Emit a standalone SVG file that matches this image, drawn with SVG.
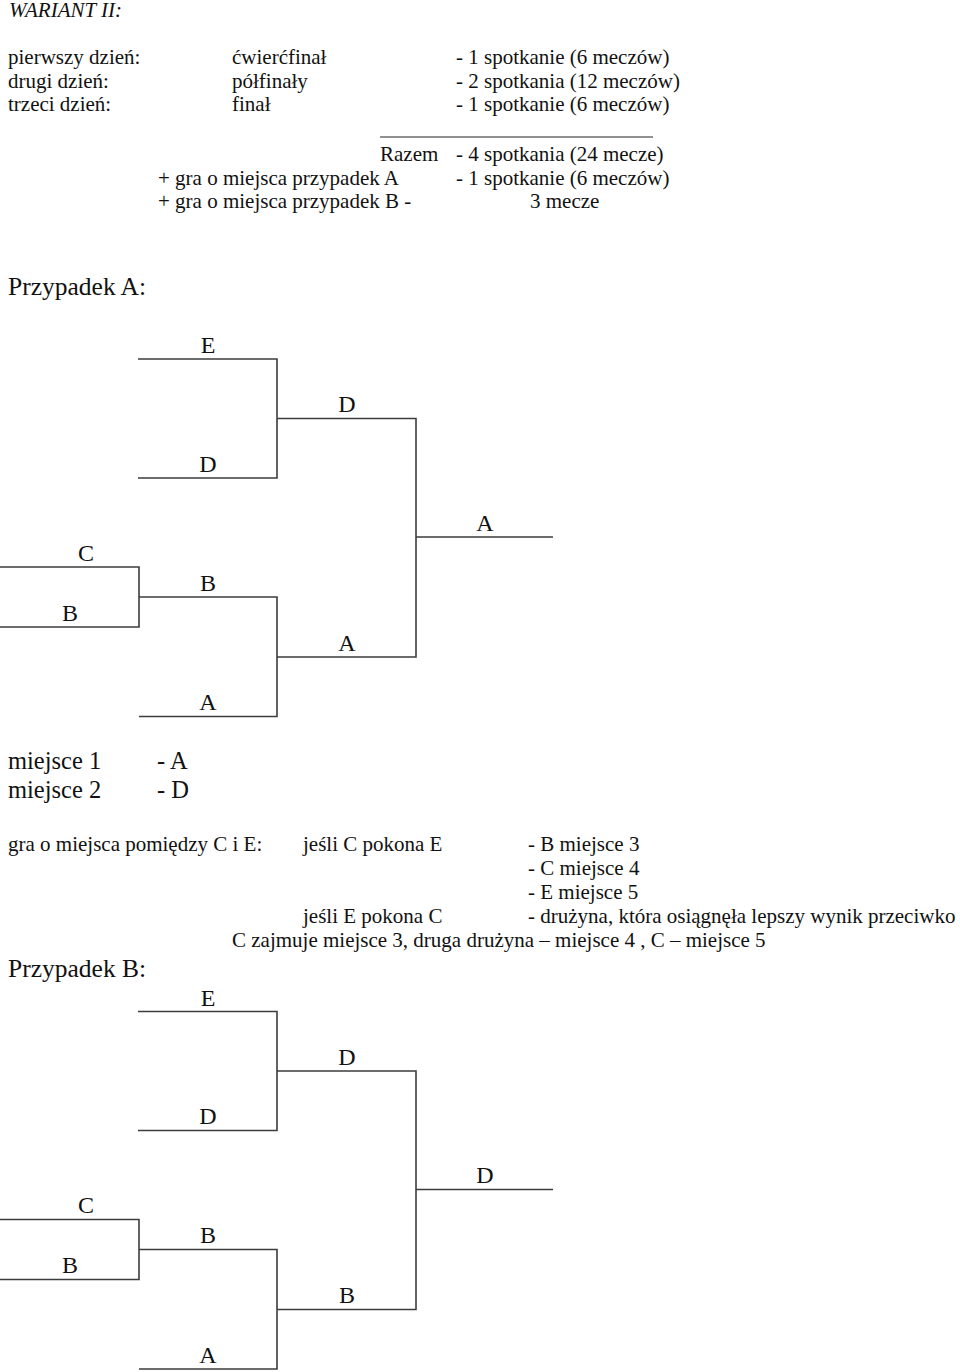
<svg xmlns="http://www.w3.org/2000/svg" width="960" height="1372" viewBox="0 0 960 1372">
<style>
text{font-family:"Liberation Serif","Times New Roman",serif;fill:#111}
.t{font-size:21px}
.h{font-size:24.5px}
.p{font-size:25.5px}
.l{font-size:24px;text-anchor:middle}
.ln{stroke:#3c3c3c;stroke-width:1.6;fill:none}
</style>
<rect width="960" height="1372" fill="#fff"/>
<g id="header">
<text class="t" x="9" y="17" font-style="italic">WARIANT II:</text>
<text class="t" x="8" y="64">pierwszy dzień:</text>
<text class="t" x="232" y="64">ćwierćfinał</text>
<text class="t" x="456" y="64">- 1 spotkanie (6 meczów)</text>
<text class="t" x="8" y="88">drugi dzień:</text>
<text class="t" x="232" y="88">półfinały</text>
<text class="t" x="456" y="88">- 2 spotkania (12 meczów)</text>
<text class="t" x="8" y="111">trzeci dzień:</text>
<text class="t" x="232" y="111">finał</text>
<text class="t" x="456" y="111">- 1 spotkanie (6 meczów)</text>
<line x1="380" y1="137" x2="653" y2="137" stroke="#222" stroke-width="1"/>
<text class="t" x="380" y="161">Razem</text>
<text class="t" x="456" y="161">- 4 spotkania (24 mecze)</text>
<text class="t" x="158" y="185">+ gra o miejsca przypadek A</text>
<text class="t" x="456" y="185">- 1 spotkanie (6 meczów)</text>
<text class="t" x="158" y="208">+ gra o miejsca przypadek B -</text>
<text class="t" x="530" y="208">3 mecze</text>
</g>
<text class="p" x="8" y="295">Przypadek A:</text>
<g id="connectors-a">
<path class="ln" d="M138 359H277V478H138M277 418.5H416V657H277M416 537H553M0 567H139V627H0M139 597H277V716.5H139"/>
</g>
<g id="node-a-e"><text class="l" x="208" y="353">E</text></g>
<g id="node-a-d1"><text class="l" x="208" y="471.5">D</text></g>
<g id="node-a-d2"><text class="l" x="347" y="412">D</text></g>
<g id="node-a-final"><text class="l" x="485" y="530.5">A</text></g>
<g id="node-a-c"><text class="l" x="86" y="560.5">C</text></g>
<g id="node-a-b1"><text class="l" x="70" y="620.5">B</text></g>
<g id="node-a-b2"><text class="l" x="208" y="590.5">B</text></g>
<g id="node-a-a2"><text class="l" x="347" y="650.5">A</text></g>
<g id="node-a-a1"><text class="l" x="208" y="710">A</text></g>
<g id="results">
<text class="h" x="8" y="769">miejsce 1</text>
<text class="h" x="157" y="769">- A</text>
<text class="h" x="8" y="798">miejsce 2</text>
<text class="h" x="157" y="798">- D</text>
<text class="t" x="8" y="851">gra o miejsca pomiędzy C i E:</text>
<text class="t" x="303" y="851">jeśli C pokona E</text>
<text class="t" x="528" y="851">- B miejsce 3</text>
<text class="t" x="528" y="875">- C miejsce 4</text>
<text class="t" x="528" y="899">- E miejsce 5</text>
<text class="t" x="303" y="923">jeśli E pokona C</text>
<text class="t" x="528" y="923">- drużyna, która osiągnęła lepszy wynik przeciwko</text>
<text class="t" x="232" y="947">C zajmuje miejsce 3, druga drużyna – miejsce 4 , C – miejsce 5</text>
</g>
<text class="p" x="8" y="977">Przypadek B:</text>
<g id="connectors-b" transform="translate(0 652.5)">
<path class="ln" d="M138 359H277V478H138M277 418.5H416V657H277M416 537H553M0 567H139V627H0M139 597H277V716.5H139"/>
</g>
<g transform="translate(0 652.5)">
<g id="node-b-e"><text class="l" x="208" y="353">E</text></g>
<g id="node-b-d1"><text class="l" x="208" y="471.5">D</text></g>
<g id="node-b-d2"><text class="l" x="347" y="412">D</text></g>
<g id="node-b-final"><text class="l" x="485" y="530.5">D</text></g>
<g id="node-b-c"><text class="l" x="86" y="560.5">C</text></g>
<g id="node-b-b1"><text class="l" x="70" y="620.5">B</text></g>
<g id="node-b-b2"><text class="l" x="208" y="590.5">B</text></g>
<g id="node-b-b3"><text class="l" x="347" y="650.5">B</text></g>
<g id="node-b-a1"><text class="l" x="208" y="710">A</text></g>
</g>
</svg>
